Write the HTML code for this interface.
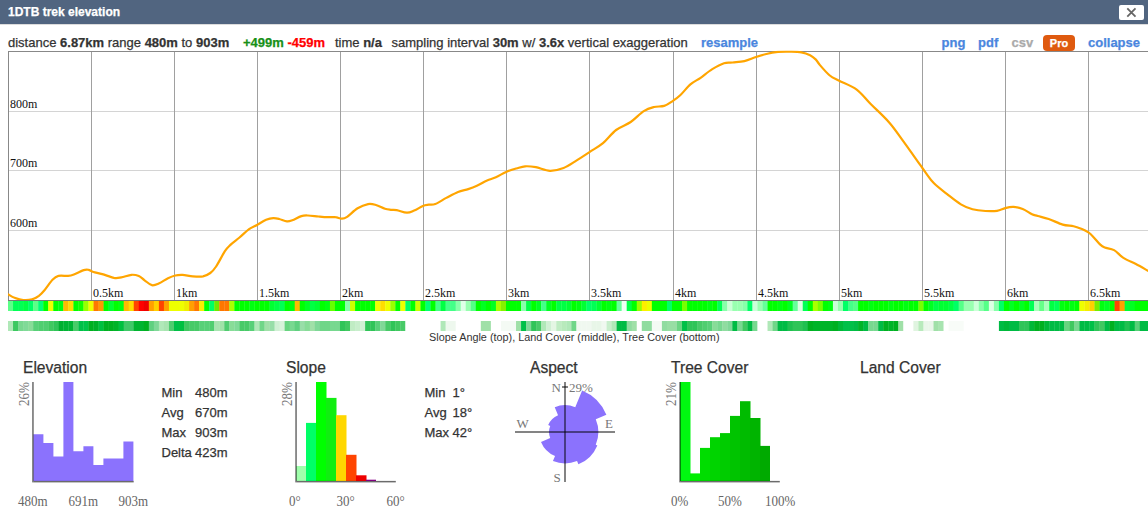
<!DOCTYPE html>
<html><head><meta charset="utf-8">
<style>
html,body{margin:0;padding:0;}
body{width:1148px;height:514px;overflow:hidden;background:#fff;position:relative;font-family:"Liberation Sans",sans-serif;color:#333;-webkit-text-stroke:0.25px currentColor;}
svg text{stroke:none;}
.hdr{position:absolute;left:0;top:0;width:1148px;height:24px;background:#516580;border-bottom:1px solid #dcdcdc;}
.title{position:absolute;left:8px;top:5px;font-size:12px;font-weight:bold;color:#fff;line-height:14px;white-space:nowrap;}
.close{position:absolute;left:1119px;top:5px;width:25px;height:15px;background:#fff;border-radius:2px;}
.t{position:absolute;white-space:nowrap;font-size:13px;line-height:16px;}
b{font-weight:bold;}
.lnk{color:#4a86de;font-weight:bold;}
.pro{position:absolute;left:1043px;top:35px;width:32px;height:16px;background:#df5a0f;border-radius:4px;color:#fff;font-weight:bold;font-size:11px;line-height:16px;text-align:center;}
svg{position:absolute;left:0;top:0;}
.ptitle{position:absolute;font-size:15.6px;line-height:18px;color:#333;white-space:nowrap;}
.st{position:absolute;font-size:13px;line-height:20px;color:#333;white-space:nowrap;}
</style></head><body>
<div class="hdr"><div class="title">1DTB trek elevation</div></div>
<div class="close"></div>
<svg width="1148" height="514" style="left:0;top:0">
<path d="M1127.3,8.3 L1135.5,16.7 M1135.5,8.3 L1127.3,16.7" stroke="#666" stroke-width="1.8"/>
</svg>
<div class="t" style="left:8px;top:35px">distance <b>6.87km</b> range <b>480m</b> to <b>903m</b></div>
<div class="t" style="left:243px;top:35px"><b style="color:#189018">+499m</b> <b style="color:#f00">-459m</b></div>
<div class="t" style="left:335px;top:35px">time <b>n/a</b></div>
<div class="t" style="left:391.5px;top:35px">sampling interval <b>30m</b> w/ <b>3.6x</b> vertical exaggeration</div>
<div class="t lnk" style="left:701px;top:35px">resample</div>
<div class="t lnk" style="left:941.5px;top:35px">png</div>
<div class="t lnk" style="left:978px;top:35px">pdf</div>
<div class="t" style="left:1011.5px;top:35px;color:#aaa;font-weight:bold">csv</div>
<div class="pro">Pro</div>
<div class="t lnk" style="left:1088px;top:35px">collapse</div>
<svg width="1148" height="514">
<rect x="9" y="111" width="1139" height="1" fill="#d4d4d4"/><rect x="9" y="170" width="1139" height="1" fill="#d4d4d4"/><rect x="9" y="230" width="1139" height="1" fill="#d4d4d4"/><rect x="91" y="51" width="1" height="249" fill="#a0a0a0"/><rect x="174" y="51" width="1" height="249" fill="#a0a0a0"/><rect x="257" y="51" width="1" height="249" fill="#a0a0a0"/><rect x="340" y="51" width="1" height="249" fill="#a0a0a0"/><rect x="423" y="51" width="1" height="249" fill="#a0a0a0"/><rect x="506" y="51" width="1" height="249" fill="#a0a0a0"/><rect x="589" y="51" width="1" height="249" fill="#a0a0a0"/><rect x="673" y="51" width="1" height="249" fill="#a0a0a0"/><rect x="756" y="51" width="1" height="249" fill="#a0a0a0"/><rect x="839" y="51" width="1" height="249" fill="#a0a0a0"/><rect x="922" y="51" width="1" height="249" fill="#a0a0a0"/><rect x="1005" y="51" width="1" height="249" fill="#a0a0a0"/><rect x="1088" y="51" width="1" height="249" fill="#a0a0a0"/>
<rect x="8" y="51" width="1140" height="1" fill="#888"/>
<rect x="8" y="51" width="1" height="250" fill="#888"/>
<rect x="8" y="300" width="1140" height="1" fill="#777"/>
<g font-family="Liberation Serif" font-size="12" fill="#111" stroke="#111" stroke-width="0.2"><text x="10" y="107.5">800m</text><text x="10" y="167">700m</text><text x="10" y="226.5">600m</text><text x="93" y="297">0.5km</text><text x="176" y="297">1km</text><text x="259" y="297">1.5km</text><text x="342" y="297">2km</text><text x="425" y="297">2.5km</text><text x="508" y="297">3km</text><text x="591" y="297">3.5km</text><text x="675" y="297">4km</text><text x="758" y="297">4.5km</text><text x="841" y="297">5km</text><text x="924" y="297">5.5km</text><text x="1007" y="297">6km</text><text x="1090" y="297">6.5km</text></g>
<clipPath id="cp"><rect x="8" y="50.5" width="1140" height="249.5"/></clipPath><path clip-path="url(#cp)" d="M8.3,294.4 C9.4,295.0 12.1,296.9 14.6,297.8 C17.1,298.7 20.4,299.8 23.3,300.0 C26.2,300.2 29.5,300.0 32.1,299.3 C34.7,298.6 36.8,297.4 38.9,295.9 C41.0,294.3 42.4,292.7 44.7,290.0 C47.0,287.3 50.2,282.2 52.5,279.8 C54.8,277.4 55.8,276.5 58.4,275.9 C61.0,275.2 65.5,276.1 68.1,275.9 C70.7,275.7 71.3,275.5 73.9,274.5 C76.5,273.5 81.3,270.9 83.7,270.1 C86.1,269.3 86.9,269.5 88.5,269.8 C90.1,270.1 91.1,271.3 93.4,272.0 C95.7,272.7 98.9,273.1 102.3,274.1 C105.7,275.1 110.8,277.3 114.0,277.9 C117.2,278.4 118.4,277.9 121.3,277.4 C124.2,276.9 128.6,275.0 131.5,274.8 C134.4,274.6 136.6,275.1 138.8,276.0 C141.0,276.9 142.4,278.8 144.6,280.3 C146.8,281.8 149.5,284.7 151.9,285.2 C154.3,285.7 156.5,284.5 159.2,283.3 C161.9,282.1 165.3,279.5 168.0,278.2 C170.7,276.9 172.9,276.1 175.3,275.5 C177.7,274.9 179.7,274.8 182.6,274.9 C185.5,275.0 189.4,276.1 192.8,276.3 C196.2,276.6 200.1,276.9 203.0,276.4 C205.9,275.8 208.1,274.6 210.3,273.0 C212.5,271.4 213.7,270.1 216.1,266.5 C218.5,262.9 222.5,254.8 224.9,251.2 C227.3,247.5 228.3,246.9 230.7,244.6 C233.1,242.3 236.4,240.1 239.5,237.5 C242.6,234.9 246.2,231.3 249.1,229.2 C252.0,227.1 254.2,226.6 257.0,225.0 C259.8,223.4 263.4,221.0 266.1,219.8 C268.8,218.7 271.1,218.2 273.3,218.1 C275.5,218.0 276.9,218.4 279.2,219.0 C281.5,219.6 284.8,221.2 287.0,221.4 C289.2,221.6 289.9,221.2 292.3,220.3 C294.7,219.4 298.8,216.9 301.4,216.1 C304.0,215.3 305.1,215.4 307.9,215.5 C310.7,215.6 315.1,216.2 318.4,216.5 C321.7,216.8 324.7,217.1 327.5,217.2 C330.3,217.3 333.0,216.9 335.4,217.2 C337.8,217.4 339.9,218.8 341.9,218.7 C343.8,218.6 344.5,218.5 347.1,216.8 C349.7,215.1 354.1,210.4 357.6,208.3 C361.1,206.2 365.1,204.7 368.1,204.1 C371.2,203.5 373.1,204.2 375.9,205.0 C378.7,205.8 382.5,208.0 385.0,208.8 C387.5,209.6 388.9,209.6 390.8,209.8 C392.8,210.0 394.0,209.6 396.7,210.1 C399.4,210.6 404.0,212.6 406.9,212.7 C409.8,212.8 411.5,211.7 414.2,210.6 C416.9,209.5 420.5,206.9 422.9,205.9 C425.3,204.9 426.7,205.0 428.8,204.7 C430.9,204.4 432.4,205.1 435.3,204.0 C438.2,202.9 442.5,199.9 446.3,197.9 C450.1,195.9 454.4,193.4 458.0,191.9 C461.6,190.4 465.1,190.1 468.2,189.1 C471.3,188.1 473.8,187.2 476.9,185.8 C480.0,184.4 483.9,182.0 487.1,180.6 C490.3,179.2 492.7,178.8 495.9,177.3 C499.1,175.9 502.7,173.4 506.1,171.9 C509.5,170.4 513.1,169.4 516.3,168.5 C519.5,167.6 521.9,166.5 525.1,166.3 C528.4,166.1 531.6,166.4 535.8,167.2 C539.9,167.9 545.4,170.7 550.0,170.8 C554.6,170.9 559.1,169.7 563.6,168.0 C568.1,166.3 572.3,163.1 576.7,160.4 C581.1,157.7 585.4,154.8 589.8,151.9 C594.2,149.0 598.6,146.8 603.0,143.2 C607.4,139.5 611.5,133.5 616.1,130.0 C620.7,126.5 626.1,125.2 630.7,122.0 C635.3,118.8 639.9,113.6 643.8,111.1 C647.7,108.6 650.6,107.9 654.0,107.0 C657.4,106.1 661.0,106.9 664.2,105.9 C667.4,104.9 670.3,102.6 673.0,100.8 C675.7,99.0 677.3,98.0 680.2,95.3 C683.1,92.6 687.0,87.3 690.4,84.4 C693.8,81.5 697.0,80.3 700.6,77.8 C704.2,75.2 708.4,71.5 712.3,69.1 C716.2,66.7 720.6,64.3 724.0,63.2 C727.4,62.1 729.3,62.9 732.7,62.5 C736.1,62.1 740.5,62.0 744.4,61.1 C748.3,60.2 752.5,58.2 756.1,57.0 C759.8,55.8 762.6,54.9 766.3,54.0 C769.9,53.1 774.1,52.3 778.0,51.9 C781.9,51.5 785.8,51.5 789.7,51.6 C793.6,51.7 797.9,51.7 801.3,52.3 C804.7,52.9 807.7,54.0 810.1,55.2 C812.5,56.4 814.4,58.1 815.9,59.6 C817.4,61.1 817.0,61.6 819.3,64.3 C821.6,67.0 826.5,72.8 829.8,75.5 C833.1,78.2 834.7,78.4 839.2,80.7 C843.7,83.0 851.5,85.7 856.7,89.6 C862.0,93.5 865.2,98.5 870.7,104.0 C876.2,109.5 884.0,116.5 889.4,122.7 C894.8,128.9 898.3,134.4 903.4,141.4 C908.5,148.4 916.3,159.5 920.0,164.7 C923.7,169.9 923.5,169.7 925.8,172.8 C928.1,175.9 930.5,179.8 934.0,183.3 C937.5,186.8 942.3,190.4 946.8,193.9 C951.3,197.4 956.6,201.8 960.9,204.4 C965.2,207.0 968.4,208.2 972.5,209.3 C976.6,210.4 981.3,210.8 985.4,211.0 C989.5,211.2 993.7,211.3 997.0,210.8 C1000.3,210.3 1002.5,208.8 1005.2,208.1 C1007.9,207.4 1010.5,206.8 1013.4,206.9 C1016.3,207.1 1019.6,207.8 1022.7,209.0 C1025.8,210.2 1029.5,213.1 1032.0,214.3 C1034.5,215.5 1035.0,215.2 1037.8,216.0 C1040.6,216.8 1044.5,217.6 1048.7,219.0 C1052.9,220.4 1058.6,223.4 1062.7,224.6 C1066.8,225.8 1070.5,225.5 1073.6,226.2 C1076.7,226.9 1078.9,227.8 1081.4,228.8 C1083.9,229.8 1086.3,231.0 1088.4,232.4 C1090.5,233.8 1091.9,235.4 1093.8,237.4 C1095.7,239.4 1098.2,242.7 1100.0,244.4 C1101.8,246.1 1102.4,246.6 1104.7,247.5 C1107.0,248.4 1111.0,248.4 1114.1,250.1 C1117.2,251.8 1119.8,255.6 1123.4,257.9 C1127.0,260.2 1131.8,262.0 1135.9,264.1 C1140.0,266.2 1146.0,269.7 1148.0,270.8" fill="none" stroke="#ffa500" stroke-width="2.2" stroke-linejoin="round" stroke-linecap="round"/>
<rect x="8.00" y="301" width="5.33" height="10" fill="#5cff88"/><rect x="13.03" y="301" width="5.33" height="10" fill="#00ff55"/><rect x="18.06" y="301" width="5.33" height="10" fill="#00ff55"/><rect x="23.09" y="301" width="5.33" height="10" fill="#00ff44"/><rect x="28.12" y="301" width="5.33" height="10" fill="#00ff66"/><rect x="33.15" y="301" width="5.33" height="10" fill="#5cff88"/><rect x="38.18" y="301" width="5.33" height="10" fill="#00ff77"/><rect x="43.21" y="301" width="5.33" height="10" fill="#00ff00"/><rect x="48.24" y="301" width="5.33" height="10" fill="#eeff00"/><rect x="53.27" y="301" width="5.33" height="10" fill="#00ff00"/><rect x="58.30" y="301" width="5.33" height="10" fill="#00ff11"/><rect x="63.33" y="301" width="5.33" height="10" fill="#ffbb00"/><rect x="68.36" y="301" width="5.33" height="10" fill="#ffdd00"/><rect x="73.39" y="301" width="5.33" height="10" fill="#00ff00"/><rect x="78.42" y="301" width="5.33" height="10" fill="#11ff00"/><rect x="83.45" y="301" width="5.33" height="10" fill="#99ff00"/><rect x="88.48" y="301" width="5.33" height="10" fill="#eeff00"/><rect x="93.51" y="301" width="5.33" height="10" fill="#ff7700"/><rect x="98.54" y="301" width="5.33" height="10" fill="#ff9900"/><rect x="103.57" y="301" width="5.33" height="10" fill="#00ff00"/><rect x="108.60" y="301" width="5.33" height="10" fill="#00ff33"/><rect x="113.63" y="301" width="5.33" height="10" fill="#00ff00"/><rect x="118.66" y="301" width="5.33" height="10" fill="#00ff11"/><rect x="123.69" y="301" width="5.33" height="10" fill="#ffbb00"/><rect x="128.72" y="301" width="5.33" height="10" fill="#ffdd00"/><rect x="133.75" y="301" width="5.33" height="10" fill="#ff4400"/><rect x="138.78" y="301" width="5.33" height="10" fill="#ff0000"/><rect x="143.81" y="301" width="5.33" height="10" fill="#ee0000"/><rect x="148.84" y="301" width="5.33" height="10" fill="#ffa000"/><rect x="153.87" y="301" width="5.33" height="10" fill="#ffd000"/><rect x="158.90" y="301" width="5.33" height="10" fill="#ff4400"/><rect x="163.93" y="301" width="5.33" height="10" fill="#ffa000"/><rect x="168.96" y="301" width="5.33" height="10" fill="#eeff00"/><rect x="173.99" y="301" width="5.33" height="10" fill="#eeff00"/><rect x="179.02" y="301" width="5.33" height="10" fill="#eeff00"/><rect x="184.05" y="301" width="5.33" height="10" fill="#f0ee00"/><rect x="189.08" y="301" width="5.33" height="10" fill="#ffa000"/><rect x="194.11" y="301" width="5.33" height="10" fill="#ff7700"/><rect x="199.14" y="301" width="5.33" height="10" fill="#f8ee00"/><rect x="204.17" y="301" width="5.33" height="10" fill="#00ff00"/><rect x="209.20" y="301" width="5.33" height="10" fill="#00ff66"/><rect x="214.23" y="301" width="5.33" height="10" fill="#70e800"/><rect x="219.26" y="301" width="5.33" height="10" fill="#ff7700"/><rect x="224.29" y="301" width="5.33" height="10" fill="#ff7700"/><rect x="229.32" y="301" width="5.33" height="10" fill="#aaff00"/><rect x="234.35" y="301" width="5.33" height="10" fill="#00ff00"/><rect x="239.38" y="301" width="5.33" height="10" fill="#00ff00"/><rect x="244.41" y="301" width="5.33" height="10" fill="#00ff00"/><rect x="249.44" y="301" width="5.33" height="10" fill="#00ff11"/><rect x="254.47" y="301" width="5.33" height="10" fill="#00ff00"/><rect x="259.50" y="301" width="5.33" height="10" fill="#00ff00"/><rect x="264.53" y="301" width="5.33" height="10" fill="#00ff00"/><rect x="269.56" y="301" width="5.33" height="10" fill="#00ff33"/><rect x="274.59" y="301" width="5.33" height="10" fill="#00ff44"/><rect x="279.62" y="301" width="5.33" height="10" fill="#00ff55"/><rect x="284.65" y="301" width="5.33" height="10" fill="#00ff00"/><rect x="289.68" y="301" width="5.33" height="10" fill="#00ff11"/><rect x="294.71" y="301" width="5.33" height="10" fill="#ffbb00"/><rect x="299.74" y="301" width="5.33" height="10" fill="#00ff00"/><rect x="304.77" y="301" width="5.33" height="10" fill="#00ff22"/><rect x="309.80" y="301" width="5.33" height="10" fill="#00ff44"/><rect x="314.83" y="301" width="5.33" height="10" fill="#00ff33"/><rect x="319.86" y="301" width="5.33" height="10" fill="#00ff00"/><rect x="324.89" y="301" width="5.33" height="10" fill="#00ff11"/><rect x="329.92" y="301" width="5.33" height="10" fill="#66ff00"/><rect x="334.95" y="301" width="5.33" height="10" fill="#00ff00"/><rect x="339.98" y="301" width="5.33" height="10" fill="#00ff00"/><rect x="345.01" y="301" width="5.33" height="10" fill="#88ffaa"/><rect x="350.04" y="301" width="5.33" height="10" fill="#ccff00"/><rect x="355.07" y="301" width="5.33" height="10" fill="#00ff00"/><rect x="360.10" y="301" width="5.33" height="10" fill="#00ff00"/><rect x="365.13" y="301" width="5.33" height="10" fill="#00ff00"/><rect x="370.16" y="301" width="5.33" height="10" fill="#00ff00"/><rect x="375.19" y="301" width="5.33" height="10" fill="#eeff00"/><rect x="380.22" y="301" width="5.33" height="10" fill="#ffdd00"/><rect x="385.25" y="301" width="5.33" height="10" fill="#eeff00"/><rect x="390.28" y="301" width="5.33" height="10" fill="#99ff00"/><rect x="395.31" y="301" width="5.33" height="10" fill="#00ff00"/><rect x="400.34" y="301" width="5.33" height="10" fill="#eeff00"/><rect x="405.37" y="301" width="5.33" height="10" fill="#00ff66"/><rect x="410.40" y="301" width="5.33" height="10" fill="#00ff00"/><rect x="415.43" y="301" width="5.33" height="10" fill="#ccff00"/><rect x="420.46" y="301" width="5.33" height="10" fill="#00ff00"/><rect x="425.49" y="301" width="5.33" height="10" fill="#00ff77"/><rect x="430.52" y="301" width="5.33" height="10" fill="#00ff00"/><rect x="435.55" y="301" width="5.33" height="10" fill="#44ff88"/><rect x="440.58" y="301" width="5.33" height="10" fill="#00ff44"/><rect x="445.61" y="301" width="5.33" height="10" fill="#44ff88"/><rect x="450.64" y="301" width="5.33" height="10" fill="#44ff88"/><rect x="455.67" y="301" width="5.33" height="10" fill="#88ffaa"/><rect x="460.70" y="301" width="5.33" height="10" fill="#e0ffe8"/><rect x="465.73" y="301" width="5.33" height="10" fill="#99ffb0"/><rect x="470.76" y="301" width="5.33" height="10" fill="#55ff88"/><rect x="475.79" y="301" width="5.33" height="10" fill="#00ff00"/><rect x="480.82" y="301" width="5.33" height="10" fill="#00ff22"/><rect x="485.85" y="301" width="5.33" height="10" fill="#00ff00"/><rect x="490.88" y="301" width="5.33" height="10" fill="#00ff22"/><rect x="495.91" y="301" width="5.33" height="10" fill="#aaff00"/><rect x="500.94" y="301" width="5.33" height="10" fill="#88f000"/><rect x="505.97" y="301" width="5.33" height="10" fill="#00ff00"/><rect x="511.00" y="301" width="5.33" height="10" fill="#00ff00"/><rect x="516.03" y="301" width="5.33" height="10" fill="#00ff00"/><rect x="521.06" y="301" width="5.33" height="10" fill="#88ffaa"/><rect x="526.09" y="301" width="5.33" height="10" fill="#00ff44"/><rect x="531.12" y="301" width="5.33" height="10" fill="#00ff00"/><rect x="536.15" y="301" width="5.33" height="10" fill="#00ff22"/><rect x="541.18" y="301" width="5.33" height="10" fill="#44ff88"/><rect x="546.21" y="301" width="5.33" height="10" fill="#00ff22"/><rect x="551.24" y="301" width="5.33" height="10" fill="#00ff00"/><rect x="556.27" y="301" width="5.33" height="10" fill="#00ff44"/><rect x="561.30" y="301" width="5.33" height="10" fill="#00ff44"/><rect x="566.33" y="301" width="5.33" height="10" fill="#00ff33"/><rect x="571.36" y="301" width="5.33" height="10" fill="#00ff00"/><rect x="576.39" y="301" width="5.33" height="10" fill="#00ff11"/><rect x="581.42" y="301" width="5.33" height="10" fill="#00ff33"/><rect x="586.45" y="301" width="5.33" height="10" fill="#00ff66"/><rect x="591.48" y="301" width="5.33" height="10" fill="#00ff55"/><rect x="596.51" y="301" width="5.33" height="10" fill="#00ff33"/><rect x="601.54" y="301" width="5.33" height="10" fill="#00ff00"/><rect x="606.57" y="301" width="5.33" height="10" fill="#00ff11"/><rect x="611.60" y="301" width="5.33" height="10" fill="#00ff00"/><rect x="616.63" y="301" width="5.33" height="10" fill="#66ff99"/><rect x="621.66" y="301" width="5.33" height="10" fill="#f0fff4"/><rect x="626.69" y="301" width="5.33" height="10" fill="#00ff44"/><rect x="631.72" y="301" width="5.33" height="10" fill="#00ff00"/><rect x="636.75" y="301" width="5.33" height="10" fill="#99ff00"/><rect x="641.78" y="301" width="5.33" height="10" fill="#ffee00"/><rect x="646.81" y="301" width="5.33" height="10" fill="#eeff00"/><rect x="651.84" y="301" width="5.33" height="10" fill="#00ff00"/><rect x="656.87" y="301" width="5.33" height="10" fill="#00ff00"/><rect x="661.90" y="301" width="5.33" height="10" fill="#00ff00"/><rect x="666.93" y="301" width="5.33" height="10" fill="#00ff66"/><rect x="671.96" y="301" width="5.33" height="10" fill="#00ff00"/><rect x="676.99" y="301" width="5.33" height="10" fill="#00ff00"/><rect x="682.02" y="301" width="5.33" height="10" fill="#77ff00"/><rect x="687.05" y="301" width="5.33" height="10" fill="#00ff00"/><rect x="692.08" y="301" width="5.33" height="10" fill="#00ff00"/><rect x="697.11" y="301" width="5.33" height="10" fill="#00ff00"/><rect x="702.14" y="301" width="5.33" height="10" fill="#00ff00"/><rect x="707.17" y="301" width="5.33" height="10" fill="#00ff11"/><rect x="712.20" y="301" width="5.33" height="10" fill="#00ff00"/><rect x="717.23" y="301" width="5.33" height="10" fill="#00ff55"/><rect x="722.26" y="301" width="5.33" height="10" fill="#88ffaa"/><rect x="727.29" y="301" width="5.33" height="10" fill="#ccffd8"/><rect x="732.32" y="301" width="5.33" height="10" fill="#99ffb0"/><rect x="737.35" y="301" width="5.33" height="10" fill="#99ffb0"/><rect x="742.38" y="301" width="5.33" height="10" fill="#88ffaa"/><rect x="747.41" y="301" width="5.33" height="10" fill="#00ff66"/><rect x="752.44" y="301" width="5.33" height="10" fill="#ccffd8"/><rect x="757.47" y="301" width="5.33" height="10" fill="#99ffb0"/><rect x="762.50" y="301" width="5.33" height="10" fill="#66ff99"/><rect x="767.53" y="301" width="5.33" height="10" fill="#00ff00"/><rect x="772.56" y="301" width="5.33" height="10" fill="#00ff00"/><rect x="777.59" y="301" width="5.33" height="10" fill="#00ff11"/><rect x="782.62" y="301" width="5.33" height="10" fill="#00ff00"/><rect x="787.65" y="301" width="5.33" height="10" fill="#00ff22"/><rect x="792.68" y="301" width="5.33" height="10" fill="#66ff99"/><rect x="797.71" y="301" width="5.33" height="10" fill="#ddffe4"/><rect x="802.74" y="301" width="5.33" height="10" fill="#00ff55"/><rect x="807.77" y="301" width="5.33" height="10" fill="#00ff00"/><rect x="812.80" y="301" width="5.33" height="10" fill="#aaff00"/><rect x="817.83" y="301" width="5.33" height="10" fill="#77ff00"/><rect x="822.86" y="301" width="5.33" height="10" fill="#00ff00"/><rect x="827.89" y="301" width="5.33" height="10" fill="#00ff11"/><rect x="832.92" y="301" width="5.33" height="10" fill="#ccffd8"/><rect x="837.95" y="301" width="5.33" height="10" fill="#99ffb0"/><rect x="842.98" y="301" width="5.33" height="10" fill="#00ff66"/><rect x="848.01" y="301" width="5.33" height="10" fill="#44ff88"/><rect x="853.04" y="301" width="5.33" height="10" fill="#55ff88"/><rect x="858.07" y="301" width="5.33" height="10" fill="#00ff00"/><rect x="863.10" y="301" width="5.33" height="10" fill="#00ff00"/><rect x="868.13" y="301" width="5.33" height="10" fill="#00ff11"/><rect x="873.16" y="301" width="5.33" height="10" fill="#00ff00"/><rect x="878.19" y="301" width="5.33" height="10" fill="#00ff00"/><rect x="883.22" y="301" width="5.33" height="10" fill="#00ff00"/><rect x="888.25" y="301" width="5.33" height="10" fill="#00ff11"/><rect x="893.28" y="301" width="5.33" height="10" fill="#00ff00"/><rect x="898.31" y="301" width="5.33" height="10" fill="#00ff00"/><rect x="903.34" y="301" width="5.33" height="10" fill="#00ff11"/><rect x="908.37" y="301" width="5.33" height="10" fill="#00ff00"/><rect x="913.40" y="301" width="5.33" height="10" fill="#00ff00"/><rect x="918.43" y="301" width="5.33" height="10" fill="#77ff00"/><rect x="923.46" y="301" width="5.33" height="10" fill="#00ff00"/><rect x="928.49" y="301" width="5.33" height="10" fill="#00ff22"/><rect x="933.52" y="301" width="5.33" height="10" fill="#00ff44"/><rect x="938.55" y="301" width="5.33" height="10" fill="#00ff33"/><rect x="943.58" y="301" width="5.33" height="10" fill="#00ff33"/><rect x="948.61" y="301" width="5.33" height="10" fill="#00ff44"/><rect x="953.64" y="301" width="5.33" height="10" fill="#00ff66"/><rect x="958.67" y="301" width="5.33" height="10" fill="#55ff88"/><rect x="963.70" y="301" width="5.33" height="10" fill="#99ffb0"/><rect x="968.73" y="301" width="5.33" height="10" fill="#99ffb0"/><rect x="973.76" y="301" width="5.33" height="10" fill="#ccffd8"/><rect x="978.79" y="301" width="5.33" height="10" fill="#88ffaa"/><rect x="983.82" y="301" width="5.33" height="10" fill="#55ff88"/><rect x="988.85" y="301" width="5.33" height="10" fill="#ddffe4"/><rect x="993.88" y="301" width="5.33" height="10" fill="#88ffaa"/><rect x="998.91" y="301" width="5.33" height="10" fill="#00ff66"/><rect x="1003.94" y="301" width="5.33" height="10" fill="#00ff00"/><rect x="1008.97" y="301" width="5.33" height="10" fill="#00ff22"/><rect x="1014.00" y="301" width="5.33" height="10" fill="#00ff00"/><rect x="1019.03" y="301" width="5.33" height="10" fill="#00ff22"/><rect x="1024.06" y="301" width="5.33" height="10" fill="#00ff00"/><rect x="1029.09" y="301" width="5.33" height="10" fill="#00ff55"/><rect x="1034.12" y="301" width="5.33" height="10" fill="#aaffbb"/><rect x="1039.15" y="301" width="5.33" height="10" fill="#66ff88"/><rect x="1044.18" y="301" width="5.33" height="10" fill="#aaffbb"/><rect x="1049.21" y="301" width="5.33" height="10" fill="#00ff44"/><rect x="1054.24" y="301" width="5.33" height="10" fill="#00ff55"/><rect x="1059.27" y="301" width="5.33" height="10" fill="#00ff11"/><rect x="1064.30" y="301" width="5.33" height="10" fill="#00ff00"/><rect x="1069.33" y="301" width="5.33" height="10" fill="#00ff11"/><rect x="1074.36" y="301" width="5.33" height="10" fill="#00ff00"/><rect x="1079.39" y="301" width="5.33" height="10" fill="#eeff00"/><rect x="1084.42" y="301" width="5.33" height="10" fill="#f4ee00"/><rect x="1089.45" y="301" width="5.33" height="10" fill="#ffd000"/><rect x="1094.48" y="301" width="5.33" height="10" fill="#77ee00"/><rect x="1099.51" y="301" width="5.33" height="10" fill="#00ff11"/><rect x="1104.54" y="301" width="5.33" height="10" fill="#00ff22"/><rect x="1109.57" y="301" width="5.33" height="10" fill="#00ff00"/><rect x="1114.60" y="301" width="5.33" height="10" fill="#ff4400"/><rect x="1119.63" y="301" width="5.33" height="10" fill="#ffa000"/><rect x="1124.66" y="301" width="5.33" height="10" fill="#00ff33"/><rect x="1129.69" y="301" width="5.33" height="10" fill="#00ff22"/><rect x="1134.72" y="301" width="5.33" height="10" fill="#00ff00"/><rect x="1139.75" y="301" width="5.33" height="10" fill="#00ff00"/><rect x="1144.78" y="301" width="5.33" height="10" fill="#00ff00"/>
<rect x="8.00" y="321" width="5.33" height="10" fill="#b0e8b8"/><rect x="13.03" y="321" width="5.33" height="10" fill="#3cc860"/><rect x="18.06" y="321" width="5.33" height="10" fill="#78d890"/><rect x="23.09" y="321" width="5.33" height="10" fill="#80da98"/><rect x="28.12" y="321" width="5.33" height="10" fill="#88dc98"/><rect x="33.15" y="321" width="5.33" height="10" fill="#58d078"/><rect x="38.18" y="321" width="5.33" height="10" fill="#50ce70"/><rect x="43.21" y="321" width="5.33" height="10" fill="#50ce70"/><rect x="48.24" y="321" width="5.33" height="10" fill="#40c860"/><rect x="53.27" y="321" width="5.33" height="10" fill="#30c458"/><rect x="58.30" y="321" width="5.33" height="10" fill="#00b030"/><rect x="63.33" y="321" width="5.33" height="10" fill="#00b434"/><rect x="68.36" y="321" width="5.33" height="10" fill="#00b434"/><rect x="73.39" y="321" width="5.33" height="10" fill="#48cc68"/><rect x="78.42" y="321" width="5.33" height="10" fill="#00c048"/><rect x="83.45" y="321" width="5.33" height="10" fill="#00c448"/><rect x="88.48" y="321" width="5.33" height="10" fill="#00b020"/><rect x="93.51" y="321" width="5.33" height="10" fill="#00b028"/><rect x="98.54" y="321" width="5.33" height="10" fill="#00c040"/><rect x="103.57" y="321" width="5.33" height="10" fill="#00b020"/><rect x="108.60" y="321" width="5.33" height="10" fill="#00b020"/><rect x="113.63" y="321" width="5.33" height="10" fill="#00b428"/><rect x="118.66" y="321" width="5.33" height="10" fill="#00c040"/><rect x="123.69" y="321" width="5.33" height="10" fill="#40c868"/><rect x="128.72" y="321" width="5.33" height="10" fill="#40c868"/><rect x="133.75" y="321" width="5.33" height="10" fill="#00b430"/><rect x="138.78" y="321" width="5.33" height="10" fill="#00b430"/><rect x="143.81" y="321" width="5.33" height="10" fill="#00b020"/><rect x="148.84" y="321" width="5.33" height="10" fill="#60d080"/><rect x="153.87" y="321" width="5.33" height="10" fill="#80d898"/><rect x="158.90" y="321" width="5.33" height="10" fill="#b0e8b8"/><rect x="163.93" y="321" width="5.33" height="10" fill="#a8e4b0"/><rect x="168.96" y="321" width="5.33" height="10" fill="#50cc70"/><rect x="173.99" y="321" width="5.33" height="10" fill="#00c048"/><rect x="179.02" y="321" width="5.33" height="10" fill="#00c040"/><rect x="184.05" y="321" width="5.33" height="10" fill="#40c860"/><rect x="189.08" y="321" width="5.33" height="10" fill="#48ca68"/><rect x="194.11" y="321" width="5.33" height="10" fill="#48ca68"/><rect x="199.14" y="321" width="5.33" height="10" fill="#58d078"/><rect x="204.17" y="321" width="5.33" height="10" fill="#58d078"/><rect x="209.20" y="321" width="5.33" height="10" fill="#50ce70"/><rect x="214.23" y="321" width="5.33" height="10" fill="#a8e4b0"/><rect x="219.26" y="321" width="5.33" height="10" fill="#a0e2a8"/><rect x="224.29" y="321" width="5.33" height="10" fill="#50cc70"/><rect x="229.32" y="321" width="5.33" height="10" fill="#88dc98"/><rect x="234.35" y="321" width="5.33" height="10" fill="#80da98"/><rect x="239.38" y="321" width="5.33" height="10" fill="#48ca68"/><rect x="244.41" y="321" width="5.33" height="10" fill="#48ca68"/><rect x="249.44" y="321" width="5.33" height="10" fill="#58d078"/><rect x="254.47" y="321" width="5.33" height="10" fill="#b0e8b8"/><rect x="259.50" y="321" width="5.33" height="10" fill="#70d688"/><rect x="264.53" y="321" width="5.33" height="10" fill="#a0e0a8"/><rect x="269.56" y="321" width="5.33" height="10" fill="#98dea8"/><rect x="274.59" y="321" width="5.33" height="10" fill="#d0f0d4"/><rect x="279.62" y="321" width="5.33" height="10" fill="#d8f2da"/><rect x="284.65" y="321" width="5.33" height="10" fill="#68d480"/><rect x="289.68" y="321" width="5.33" height="10" fill="#78d890"/><rect x="294.71" y="321" width="5.33" height="10" fill="#60d080"/><rect x="299.74" y="321" width="5.33" height="10" fill="#98dea8"/><rect x="304.77" y="321" width="5.33" height="10" fill="#88dc98"/><rect x="309.80" y="321" width="5.33" height="10" fill="#a0e0a8"/><rect x="314.83" y="321" width="5.33" height="10" fill="#80d898"/><rect x="319.86" y="321" width="5.33" height="10" fill="#70d688"/><rect x="324.89" y="321" width="5.33" height="10" fill="#70d688"/><rect x="329.92" y="321" width="5.33" height="10" fill="#78d890"/><rect x="334.95" y="321" width="5.33" height="10" fill="#78d890"/><rect x="339.98" y="321" width="5.33" height="10" fill="#30c458"/><rect x="345.01" y="321" width="5.33" height="10" fill="#40c860"/><rect x="350.04" y="321" width="5.33" height="10" fill="#c0ecc4"/><rect x="355.07" y="321" width="5.33" height="10" fill="#c8eecc"/><rect x="360.10" y="321" width="5.33" height="10" fill="#d0f0d4"/><rect x="365.13" y="321" width="5.33" height="10" fill="#30c458"/><rect x="370.16" y="321" width="5.33" height="10" fill="#30c458"/><rect x="375.19" y="321" width="5.33" height="10" fill="#58d078"/><rect x="380.22" y="321" width="5.33" height="10" fill="#80d898"/><rect x="385.25" y="321" width="5.33" height="10" fill="#48ca68"/><rect x="390.28" y="321" width="5.33" height="10" fill="#30c458"/><rect x="395.31" y="321" width="5.33" height="10" fill="#40c860"/><rect x="400.34" y="321" width="5.33" height="10" fill="#48ca68"/><rect x="405.37" y="321" width="5.33" height="10" fill="#ffffff"/><rect x="410.40" y="321" width="5.33" height="10" fill="#ffffff"/><rect x="415.43" y="321" width="5.33" height="10" fill="#ffffff"/><rect x="420.46" y="321" width="5.33" height="10" fill="#ffffff"/><rect x="425.49" y="321" width="5.33" height="10" fill="#ffffff"/><rect x="430.52" y="321" width="5.33" height="10" fill="#ffffff"/><rect x="435.55" y="321" width="5.33" height="10" fill="#ffffff"/><rect x="440.58" y="321" width="5.33" height="10" fill="#b0e8b8"/><rect x="445.61" y="321" width="5.33" height="10" fill="#eef8ee"/><rect x="450.64" y="321" width="5.33" height="10" fill="#eef8ee"/><rect x="455.67" y="321" width="5.33" height="10" fill="#ffffff"/><rect x="460.70" y="321" width="5.33" height="10" fill="#ffffff"/><rect x="465.73" y="321" width="5.33" height="10" fill="#ffffff"/><rect x="470.76" y="321" width="5.33" height="10" fill="#ffffff"/><rect x="475.79" y="321" width="5.33" height="10" fill="#ffffff"/><rect x="480.82" y="321" width="5.33" height="10" fill="#a0e0a8"/><rect x="485.85" y="321" width="5.33" height="10" fill="#a0e0a8"/><rect x="490.88" y="321" width="5.33" height="10" fill="#ffffff"/><rect x="495.91" y="321" width="5.33" height="10" fill="#ffffff"/><rect x="500.94" y="321" width="5.33" height="10" fill="#f4faf4"/><rect x="505.97" y="321" width="5.33" height="10" fill="#f4faf4"/><rect x="511.00" y="321" width="5.33" height="10" fill="#f4faf4"/><rect x="516.03" y="321" width="5.33" height="10" fill="#a0e0a8"/><rect x="521.06" y="321" width="5.33" height="10" fill="#00c048"/><rect x="526.09" y="321" width="5.33" height="10" fill="#80d898"/><rect x="531.12" y="321" width="5.33" height="10" fill="#30c458"/><rect x="536.15" y="321" width="5.33" height="10" fill="#48ca68"/><rect x="541.18" y="321" width="5.33" height="10" fill="#b0e8b8"/><rect x="546.21" y="321" width="5.33" height="10" fill="#d0f0d4"/><rect x="551.24" y="321" width="5.33" height="10" fill="#e4f6e4"/><rect x="556.27" y="321" width="5.33" height="10" fill="#c0ecc4"/><rect x="561.30" y="321" width="5.33" height="10" fill="#b8eabc"/><rect x="566.33" y="321" width="5.33" height="10" fill="#b0e8b8"/><rect x="571.36" y="321" width="5.33" height="10" fill="#70d688"/><rect x="576.39" y="321" width="5.33" height="10" fill="#f0f8f0"/><rect x="581.42" y="321" width="5.33" height="10" fill="#f0f8f0"/><rect x="586.45" y="321" width="5.33" height="10" fill="#f0f8f0"/><rect x="591.48" y="321" width="5.33" height="10" fill="#e8f6e8"/><rect x="596.51" y="321" width="5.33" height="10" fill="#e8f6e8"/><rect x="601.54" y="321" width="5.33" height="10" fill="#f0f8f0"/><rect x="606.57" y="321" width="5.33" height="10" fill="#c8eecc"/><rect x="611.60" y="321" width="5.33" height="10" fill="#b0e8b8"/><rect x="616.63" y="321" width="5.33" height="10" fill="#00bb44"/><rect x="621.66" y="321" width="5.33" height="10" fill="#00bb44"/><rect x="626.69" y="321" width="5.33" height="10" fill="#90dca0"/><rect x="631.72" y="321" width="5.33" height="10" fill="#a0e0a8"/><rect x="636.75" y="321" width="5.33" height="10" fill="#ffffff"/><rect x="641.78" y="321" width="5.33" height="10" fill="#90dca0"/><rect x="646.81" y="321" width="5.33" height="10" fill="#90dca0"/><rect x="651.84" y="321" width="5.33" height="10" fill="#f4faf4"/><rect x="656.87" y="321" width="5.33" height="10" fill="#f4faf4"/><rect x="661.90" y="321" width="5.33" height="10" fill="#90dca0"/><rect x="666.93" y="321" width="5.33" height="10" fill="#98dea4"/><rect x="671.96" y="321" width="5.33" height="10" fill="#98dea4"/><rect x="676.99" y="321" width="5.33" height="10" fill="#6cd584"/><rect x="682.02" y="321" width="5.33" height="10" fill="#00c048"/><rect x="687.05" y="321" width="5.33" height="10" fill="#30c458"/><rect x="692.08" y="321" width="5.33" height="10" fill="#30c458"/><rect x="697.11" y="321" width="5.33" height="10" fill="#48ca68"/><rect x="702.14" y="321" width="5.33" height="10" fill="#50ce70"/><rect x="707.17" y="321" width="5.33" height="10" fill="#58d078"/><rect x="712.20" y="321" width="5.33" height="10" fill="#88dc98"/><rect x="717.23" y="321" width="5.33" height="10" fill="#78d890"/><rect x="722.26" y="321" width="5.33" height="10" fill="#90dca0"/><rect x="727.29" y="321" width="5.33" height="10" fill="#80d898"/><rect x="732.32" y="321" width="5.33" height="10" fill="#00bb44"/><rect x="737.35" y="321" width="5.33" height="10" fill="#78d890"/><rect x="742.38" y="321" width="5.33" height="10" fill="#40c860"/><rect x="747.41" y="321" width="5.33" height="10" fill="#00bb44"/><rect x="752.44" y="321" width="5.33" height="10" fill="#78d890"/><rect x="757.47" y="321" width="5.33" height="10" fill="#ffffff"/><rect x="762.50" y="321" width="5.33" height="10" fill="#ffffff"/><rect x="767.53" y="321" width="5.33" height="10" fill="#b0e8b8"/><rect x="772.56" y="321" width="5.33" height="10" fill="#70d688"/><rect x="777.59" y="321" width="5.33" height="10" fill="#00bb44"/><rect x="782.62" y="321" width="5.33" height="10" fill="#00bb44"/><rect x="787.65" y="321" width="5.33" height="10" fill="#20c050"/><rect x="792.68" y="321" width="5.33" height="10" fill="#30c458"/><rect x="797.71" y="321" width="5.33" height="10" fill="#30c458"/><rect x="802.74" y="321" width="5.33" height="10" fill="#20c050"/><rect x="807.77" y="321" width="5.33" height="10" fill="#00b020"/><rect x="812.80" y="321" width="5.33" height="10" fill="#00b428"/><rect x="817.83" y="321" width="5.33" height="10" fill="#00b428"/><rect x="822.86" y="321" width="5.33" height="10" fill="#00b428"/><rect x="827.89" y="321" width="5.33" height="10" fill="#00b428"/><rect x="832.92" y="321" width="5.33" height="10" fill="#00b020"/><rect x="837.95" y="321" width="5.33" height="10" fill="#00b838"/><rect x="842.98" y="321" width="5.33" height="10" fill="#00c048"/><rect x="848.01" y="321" width="5.33" height="10" fill="#00c048"/><rect x="853.04" y="321" width="5.33" height="10" fill="#00bb44"/><rect x="858.07" y="321" width="5.33" height="10" fill="#00b428"/><rect x="863.10" y="321" width="5.33" height="10" fill="#00bb44"/><rect x="868.13" y="321" width="5.33" height="10" fill="#78d890"/><rect x="873.16" y="321" width="5.33" height="10" fill="#78d890"/><rect x="878.19" y="321" width="5.33" height="10" fill="#00bb44"/><rect x="883.22" y="321" width="5.33" height="10" fill="#00b020"/><rect x="888.25" y="321" width="5.33" height="10" fill="#00b428"/><rect x="893.28" y="321" width="5.33" height="10" fill="#00b020"/><rect x="898.31" y="321" width="5.33" height="10" fill="#a0e0a8"/><rect x="903.34" y="321" width="5.33" height="10" fill="#ffffff"/><rect x="908.37" y="321" width="5.33" height="10" fill="#ffffff"/><rect x="913.40" y="321" width="5.33" height="10" fill="#e0f4e0"/><rect x="918.43" y="321" width="5.33" height="10" fill="#b8eabc"/><rect x="923.46" y="321" width="5.33" height="10" fill="#eaf6ea"/><rect x="928.49" y="321" width="5.33" height="10" fill="#eaf6ea"/><rect x="933.52" y="321" width="5.33" height="10" fill="#a0e0a8"/><rect x="938.55" y="321" width="5.33" height="10" fill="#a8e4b0"/><rect x="943.58" y="321" width="5.33" height="10" fill="#ffffff"/><rect x="948.61" y="321" width="5.33" height="10" fill="#f8fcf8"/><rect x="953.64" y="321" width="5.33" height="10" fill="#f8fcf8"/><rect x="958.67" y="321" width="5.33" height="10" fill="#f8fcf8"/><rect x="963.70" y="321" width="5.33" height="10" fill="#ffffff"/><rect x="968.73" y="321" width="5.33" height="10" fill="#ffffff"/><rect x="973.76" y="321" width="5.33" height="10" fill="#ffffff"/><rect x="978.79" y="321" width="5.33" height="10" fill="#ffffff"/><rect x="983.82" y="321" width="5.33" height="10" fill="#ffffff"/><rect x="988.85" y="321" width="5.33" height="10" fill="#ffffff"/><rect x="993.88" y="321" width="5.33" height="10" fill="#ffffff"/><rect x="998.91" y="321" width="5.33" height="10" fill="#00bb44"/><rect x="1003.94" y="321" width="5.33" height="10" fill="#00b838"/><rect x="1008.97" y="321" width="5.33" height="10" fill="#00bb44"/><rect x="1014.00" y="321" width="5.33" height="10" fill="#00bb44"/><rect x="1019.03" y="321" width="5.33" height="10" fill="#30c458"/><rect x="1024.06" y="321" width="5.33" height="10" fill="#30c458"/><rect x="1029.09" y="321" width="5.33" height="10" fill="#00b838"/><rect x="1034.12" y="321" width="5.33" height="10" fill="#00b020"/><rect x="1039.15" y="321" width="5.33" height="10" fill="#00b020"/><rect x="1044.18" y="321" width="5.33" height="10" fill="#00b838"/><rect x="1049.21" y="321" width="5.33" height="10" fill="#00bb44"/><rect x="1054.24" y="321" width="5.33" height="10" fill="#00bb44"/><rect x="1059.27" y="321" width="5.33" height="10" fill="#00bb44"/><rect x="1064.30" y="321" width="5.33" height="10" fill="#68d480"/><rect x="1069.33" y="321" width="5.33" height="10" fill="#40c860"/><rect x="1074.36" y="321" width="5.33" height="10" fill="#78d890"/><rect x="1079.39" y="321" width="5.33" height="10" fill="#00bb44"/><rect x="1084.42" y="321" width="5.33" height="10" fill="#00bb44"/><rect x="1089.45" y="321" width="5.33" height="10" fill="#00c048"/><rect x="1094.48" y="321" width="5.33" height="10" fill="#30c458"/><rect x="1099.51" y="321" width="5.33" height="10" fill="#40c860"/><rect x="1104.54" y="321" width="5.33" height="10" fill="#00bb44"/><rect x="1109.57" y="321" width="5.33" height="10" fill="#00b020"/><rect x="1114.60" y="321" width="5.33" height="10" fill="#00bb44"/><rect x="1119.63" y="321" width="5.33" height="10" fill="#00bb44"/><rect x="1124.66" y="321" width="5.33" height="10" fill="#20c050"/><rect x="1129.69" y="321" width="5.33" height="10" fill="#00bb44"/><rect x="1134.72" y="321" width="5.33" height="10" fill="#58d078"/><rect x="1139.75" y="321" width="5.33" height="10" fill="#00bb44"/><rect x="1144.78" y="321" width="5.33" height="10" fill="#00bb44"/>
<text x="429" y="340.7" font-family="Liberation Sans" font-size="10.85" fill="#333">Slope Angle (top), Land Cover (middle), Tree Cover (bottom)</text>
<!-- elevation hist -->
<path d="M33.40,481 L33.40,434.3 L43.40,434.3 L43.40,443.1 L53.40,443.1 L53.40,456.5 L63.40,456.5 L63.40,382.0 L73.40,382.0 L73.40,451.3 L83.40,451.3 L83.40,446.2 L93.40,446.2 L93.40,464.9 L103.40,464.9 L103.40,458.5 L113.40,458.5 L113.40,458.5 L123.40,458.5 L123.40,441.6 L133.40,441.6 L133.40,481 Z" fill="#8b72fd"/>
<rect x="32.2" y="382" width="1.5" height="100.4" fill="rgba(0,0,0,0.58)"/>
<rect x="33.7" y="480.9" width="100" height="1.5" fill="rgba(0,0,0,0.58)"/>
<text transform="translate(29,406) rotate(-90) scale(1,1.1)" font-family="Liberation Serif" font-size="13" fill="#777">26%</text>
<g font-family="Liberation Serif" font-size="13" fill="#666" stroke="#666" stroke-width="0.2" transform="translate(0,506.5) scale(1,1.1) translate(0,-506.5)"><text x="18" y="506.5">480m</text><text x="68.5" y="506.5">691m</text><text x="118.5" y="506.5">903m</text></g>
<!-- slope hist -->
<rect x="296.00" y="466.0" width="10.5" height="15.0" fill="#a0ffac"/><rect x="306.00" y="422.9" width="10.5" height="58.1" fill="#00ff66"/><rect x="316.00" y="382.0" width="10.5" height="99.0" fill="#00ff00"/><rect x="326.00" y="397.9" width="10.5" height="83.1" fill="#11ee11"/><rect x="336.00" y="415.2" width="10.5" height="65.8" fill="#ffd700"/><rect x="346.00" y="454.8" width="10.5" height="26.2" fill="#ff4400"/><rect x="356.00" y="475.3" width="10.5" height="5.7" fill="#ee0000"/><rect x="366.00" y="479.7" width="10" height="1.3" fill="#880088"/>
<rect x="295.3" y="382" width="1.5" height="100.4" fill="rgba(0,0,0,0.58)"/>
<rect x="296.8" y="480.9" width="99" height="1.5" fill="rgba(0,0,0,0.58)"/>
<text transform="translate(292,406) rotate(-90) scale(1,1.1)" font-family="Liberation Serif" font-size="13" fill="#777">28%</text>
<g font-family="Liberation Serif" font-size="13" fill="#666" stroke="#666" stroke-width="0.2" transform="translate(0,506.5) scale(1,1.1) translate(0,-506.5)"><text x="289" y="506.5">0°</text><text x="336.5" y="506.5">30°</text><text x="386.5" y="506.5">60°</text></g>
<!-- aspect -->
<path d="M554.74,407.24 A26.8,26.8 0 0 1 575.26,407.24 L582.14,390.61 A44.8,44.8 0 0 1 606.39,414.86 L595.77,419.26 A33.3,33.3 0 0 1 595.77,444.74 L597.34,445.39 A35,35 0 0 1 578.39,464.34 L577.05,461.10 A31.5,31.5 0 0 1 552.95,461.10 L555.05,456.02 A26,26 0 0 1 540.98,441.95 L550.22,438.12 A16,16 0 0 1 550.22,425.88 L548.19,425.04 A18.2,18.2 0 0 1 558.04,415.19 Z" fill="#8b72fd"/>
<rect x="564.2" y="382" width="1.6" height="100" fill="rgba(0,0,0,0.6)"/>
<rect x="515" y="431.2" width="100" height="1.6" fill="rgba(0,0,0,0.6)"/>
<rect x="562" y="386.2" width="6" height="1.6" fill="rgba(0,0,0,0.6)"/>
<g font-family="Liberation Serif" font-size="13" fill="#777"><text x="551.5" y="392">N</text><text x="569" y="392">29%</text><text x="516.5" y="427.7">W</text><text x="605" y="427.7">E</text><text x="553.5" y="481.5">S</text></g>
<!-- tree hist -->
<rect x="680.00" y="382.0" width="10.5" height="99.0" fill="#00f810"/><rect x="690.00" y="473.4" width="10.5" height="7.6" fill="#00ee00"/><rect x="700.00" y="447.9" width="10.5" height="33.1" fill="#00dd00"/><rect x="710.00" y="437.2" width="10.5" height="43.8" fill="#00d400"/><rect x="720.00" y="433.1" width="10.5" height="47.9" fill="#00cc00"/><rect x="730.00" y="415.9" width="10.5" height="65.1" fill="#00c400"/><rect x="740.00" y="401.2" width="10.5" height="79.8" fill="#00bb00"/><rect x="750.00" y="418.0" width="10.5" height="63.0" fill="#00b400"/><rect x="760.00" y="445.9" width="10" height="35.1" fill="#00aa00"/>
<rect x="679.3" y="382" width="1.5" height="100.4" fill="rgba(0,0,0,0.58)"/>
<rect x="680.8" y="480.9" width="99" height="1.5" fill="rgba(0,0,0,0.58)"/>
<text transform="translate(676,406) rotate(-90) scale(1,1.1)" font-family="Liberation Serif" font-size="13" fill="#777">21%</text>
<g font-family="Liberation Serif" font-size="13" fill="#666" stroke="#666" stroke-width="0.2" transform="translate(0,506.5) scale(1,1.1) translate(0,-506.5)"><text x="671" y="506.5">0%</text><text x="718" y="506.5">50%</text><text x="765" y="506.5">100%</text></g>
</svg>
<div class="ptitle" style="left:23px;top:359px">Elevation</div>
<div class="ptitle" style="left:286px;top:359px">Slope</div>
<div class="ptitle" style="left:530px;top:359px">Aspect</div>
<div class="ptitle" style="left:671px;top:359px">Tree Cover</div>
<div class="ptitle" style="left:860px;top:359px">Land Cover</div>
<div class="st" style="left:161.5px;top:383px">Min<br>Avg<br>Max<br>Delta</div>
<div class="st" style="left:195px;top:383px">480m<br>670m<br>903m<br>423m</div>
<div class="st" style="left:424.5px;top:383px">Min<br>Avg<br>Max</div>
<div class="st" style="left:452.5px;top:383px">1°<br>18°<br>42°</div>
</body></html>
